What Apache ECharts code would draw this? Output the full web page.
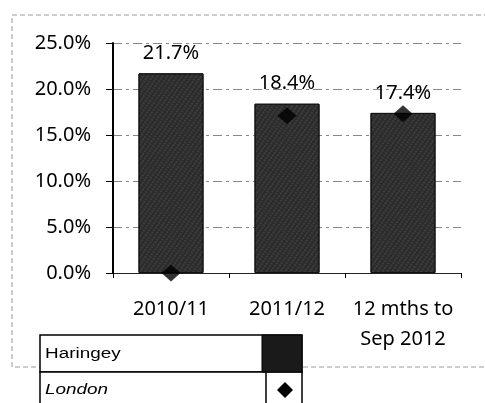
<!DOCTYPE html>
<html><head><meta charset="utf-8">
<script src="https://cdn.jsdelivr.net/npm/echarts@6/dist/echarts.min.js"></script>
<style>html,body{margin:0;padding:0;background:#fff}#c{width:485px;height:403px}</style>
</head><body><div id="c"></div>
<script>
const categories = ['2010/11', '2011/12', '12 mths to\nSep 2012'];
const haringey = [21.7, 18.4, 17.4];
const london = [0, 17.1, 17.3];
const yTicks = [0, 5, 10, 15, 20, 25];

const chart = echarts.init(document.getElementById('c'));
const font = '"Noto Sans", "Open Sans", sans-serif';
chart.setOption({
  animation: false,
  backgroundColor: '#fff',
  grid: {left: 113, right: 24, top: 43, bottom: 130},
  xAxis: {
    type: 'category', data: categories,
    axisLine: {lineStyle: {color: '#222', width: 1}},
    axisTick: {show: true, length: 5, lineStyle: {color: '#000'}},
    axisLabel: {interval: 0, hideOverlap: false, color: '#000', fontFamily: font, fontSize: 20, margin: 21, lineHeight: 30}
  },
  yAxis: {
    type: 'value', min: yTicks[0], max: yTicks[yTicks.length - 1], interval: 5,
    axisLine: {show: true, lineStyle: {color: '#000', width: 2}},
    axisTick: {show: true, length: 7, lineStyle: {color: '#000'}},
    axisLabel: {color: '#000', fontFamily: font, fontSize: 20, margin: 22,
      formatter: v => v.toFixed(1) + '%'},
    splitLine: {lineStyle: {color: '#888', type: [9, 4, 3, 4], width: 1}}
  },
  series: [
    {name: 'Haringey', type: 'bar', data: haringey, barWidth: 65,
      itemStyle: {color: '#2b2b2b', borderColor: '#111', borderWidth: 1,
        decal: {symbol: 'circle', symbolSize: 0.5, color: 'rgba(255,255,255,0.45)',
          dashArrayX: [2, 2], dashArrayY: [2, 1], rotation: 0.6}},
      label: {show: true, position: 'top', distance: 10, color: '#000', fontFamily: font, fontSize: 20,
        formatter: p => p.value.toFixed(1) + '%'}},
    {name: 'London', type: 'scatter', data: london, symbol: 'diamond', symbolSize: [19, 17],
      itemStyle: {color: '#000'}, z: 5}
  ],
  graphic: [
    {type: 'rect', shape: {x: 12, y: 15, width: 480, height: 352}, z: -10,
      style: {fill: 'none', stroke: '#999', lineWidth: 1, lineDash: [5, 3]}},
    {type: 'rect', shape: {x: 40, y: 335, width: 262, height: 37}, z: 10,
      style: {fill: '#fff', stroke: '#000', lineWidth: 1.5}},
    {type: 'rect', shape: {x: 262, y: 335, width: 40, height: 37}, z: 11,
      style: {fill: '#1a1a1a', stroke: '#000', lineWidth: 1}},
    {type: 'text', x: 45, y: 354, z: 12, scaleX: 1.35,
      style: {text: 'Haringey', fill: '#000', font: '14px "Liberation Sans", Arial, sans-serif', textVerticalAlign: 'middle'}},
    {type: 'rect', shape: {x: 40, y: 372, width: 262, height: 40}, z: 10,
      style: {fill: '#fff', stroke: '#000', lineWidth: 1.5}},
    {type: 'line', shape: {x1: 266, y1: 372, x2: 266, y2: 410}, z: 11,
      style: {stroke: '#000', lineWidth: 1.5}},
    {type: 'text', x: 45, y: 390, z: 12, scaleX: 1.35,
      style: {text: 'London', fill: '#000', font: 'italic 14px "Liberation Sans", Arial, sans-serif', textVerticalAlign: 'middle'}},
    {type: 'polygon', z: 12, shape: {points: [[285, 382], [293, 390], [285, 398], [277, 390]]}, style: {fill: '#000'}}
  ]
});
</script></body></html>
